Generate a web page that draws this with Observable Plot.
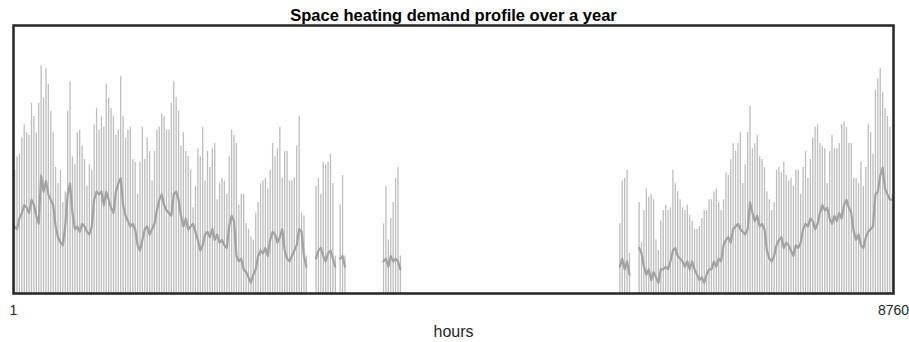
<!DOCTYPE html>
<html>
<head>
<meta charset="utf-8">
<script src="https://cdn.jsdelivr.net/npm/d3@7"></script>
<script src="https://cdn.jsdelivr.net/npm/@observablehq/plot@0.6"></script>
<style>
  html, body { margin: 0; padding: 0; background: #fff; }
  #chart svg { display: block; }
</style>
</head>
<body>
<div id="chart"></div>
<script>
// Chart text
const chartTitle = "Space heating demand profile over a year";
const xLabel = "hours";
const xTickValues = [1, 8760];

// Daily peak of the hourly space-heating demand (relative units, 365 days)
const dailyPeak = [
  46,51,52,58,63,60,59,71,66,60,71,85,73,84,78,68,60,47,41,46,34,38,68,79,51,48,60,61,55,50,40,48,46,63,69,61,66,62,78,73,69,66,
  59,61,81,66,58,61,62,50,49,37,49,62,50,58,53,42,53,61,62,67,66,61,61,71,79,73,68,55,60,53,51,46,32,40,54,51,62,42,53,47,54,56,35,41,43,
  42,37,51,61,59,56,33,37,37,26,24,21,20,30,34,41,42,43,39,46,56,51,54,62,43,53,53,42,42,43,55,66,30,29,14,
  0,0,0,
  40,43,37,49,48,49,52,41,14,
  0,
  33,44,14,
  0,0,0,0,0,0,0,0,0,0,0,0,0,0,0,
  26,40,20,28,34,43,47,14,
  0,0,0,0,0,0,0,0,0,0,0,0,0,0,0,0,0,0,0,0,0,0,0,0,0,0,0,0,0,0,
  0,0,0,0,0,0,0,0,0,0,0,0,0,0,0,0,0,0,0,0,0,0,0,0,0,0,0,0,0,0,
  0,0,0,0,0,0,0,0,0,0,0,0,0,0,0,0,0,0,0,0,0,0,0,0,0,0,0,0,0,0,
  26,42,43,46,15,
  0,0,0,
  34,19,31,39,36,37,35,20,16,27,31,33,31,32,46,41,38,35,32,31,33,29,27,24,24,25,28,31,31,35,35,38,39,34,31,35,45,44,50,56,53,56,60,41,48,60,70,54,56,59,51,
  50,47,38,35,31,34,46,47,45,49,44,42,43,40,46,46,37,47,53,43,50,58,62,63,56,55,54,41,53,59,54,54,56,63,64,62,56,56,43,43,41,49,40,47,63,60,52,76,80,84,75,69,66,62,37
];

// Typical daytime level of the demand for each day (null = heating off)
const dailyBase = [
  25,24,28,30,33,32,30,35,33,29,26,44,38,42,37,35,33,25,21,19,18,25,37,41,30,24,25,23,26,25,23,22,25,35,38,37,38,33,38,35,32,30,
  38,41,43,33,29,27,25,26,24,18,16,20,24,25,22,24,26,31,35,37,33,31,30,29,37,38,35,29,25,28,24,25,26,23,20,16,18,22,23,21,24,20,22,19,20,
  18,17,25,29,27,14,12,13,9,8,6,4,7,9,14,16,15,17,14,20,23,22,19,21,24,16,13,12,14,16,18,24,23,14,10,
  null,null,null,
  13,16,17,14,12,15,16,13,10,
  null,
  13,14,10,
  null,null,null,null,null,null,null,null,null,null,null,null,null,null,null,
  12,13,10,14,12,13,12,9,
  null,null,null,null,null,null,null,null,null,null,null,null,null,null,null,null,null,null,null,null,null,null,null,null,null,null,null,null,null,null,
  null,null,null,null,null,null,null,null,null,null,null,null,null,null,null,null,null,null,null,null,null,null,null,null,null,null,null,null,null,null,
  null,null,null,null,null,null,null,null,null,null,null,null,null,null,null,null,null,null,null,null,null,null,null,null,null,null,null,null,null,null,
  10,13,9,12,7,
  null,null,null,
  17,15,10,7,9,5,8,6,4,9,9,10,9,12,16,17,14,13,12,10,12,9,12,9,7,5,6,4,7,9,9,12,10,13,12,18,20,21,19,24,25,26,24,23,22,24,34,30,27,29,25,
  26,24,16,13,12,14,18,20,21,17,19,18,16,14,18,17,19,24,26,25,28,27,24,26,30,33,31,32,28,26,29,27,30,28,33,35,32,30,23,20,22,18,17,21,23,24,25,37,38,44,47,39,37,35,35
];

const days = dailyPeak.map((peak, i) => ({
  hour: i * 24 + 12,
  peak,
  base: dailyBase[i]
}));

const font = "'Liberation Sans', Arial, sans-serif";

const chart = Plot.plot({
  width: 909,
  height: 342,
  marginLeft: 13,
  marginRight: 16,
  marginTop: 25,
  marginBottom: 49,
  style: { fontFamily: font, background: "#fff", color: "#000" },
  x: { domain: [1, 8760], axis: null },
  y: { domain: [0, 100], axis: null },
  marks: [
    Plot.ruleX(days.filter(d => d.peak > 0), {
      x: "hour", y1: 0, y2: "peak", stroke: "#bdbdbd", strokeWidth: 1.3
    }),
    Plot.line(days, {
      x: "hour", y: "base", stroke: "#a2a2a2", strokeWidth: 2.2
    }),
    Plot.frame({ stroke: "#262626", strokeWidth: 2.5 }),
    Plot.axisX({
      ticks: xTickValues, tickSize: 0, tickPadding: 12, fontSize: 14,
      tickFormat: d => String(d), label: null, fill: "#262626"
    }),
    Plot.text([chartTitle], {
      frameAnchor: "top", lineAnchor: "top", dy: -16.7,
      fontSize: 16.5, fontWeight: "bold", fill: "#000"
    }),
    Plot.text([xLabel], {
      frameAnchor: "bottom", lineAnchor: "top", dy: 32.5,
      fontSize: 16, fill: "#262626"
    })
  ]
});

document.getElementById("chart").appendChild(chart);
</script>
</body>
</html>
